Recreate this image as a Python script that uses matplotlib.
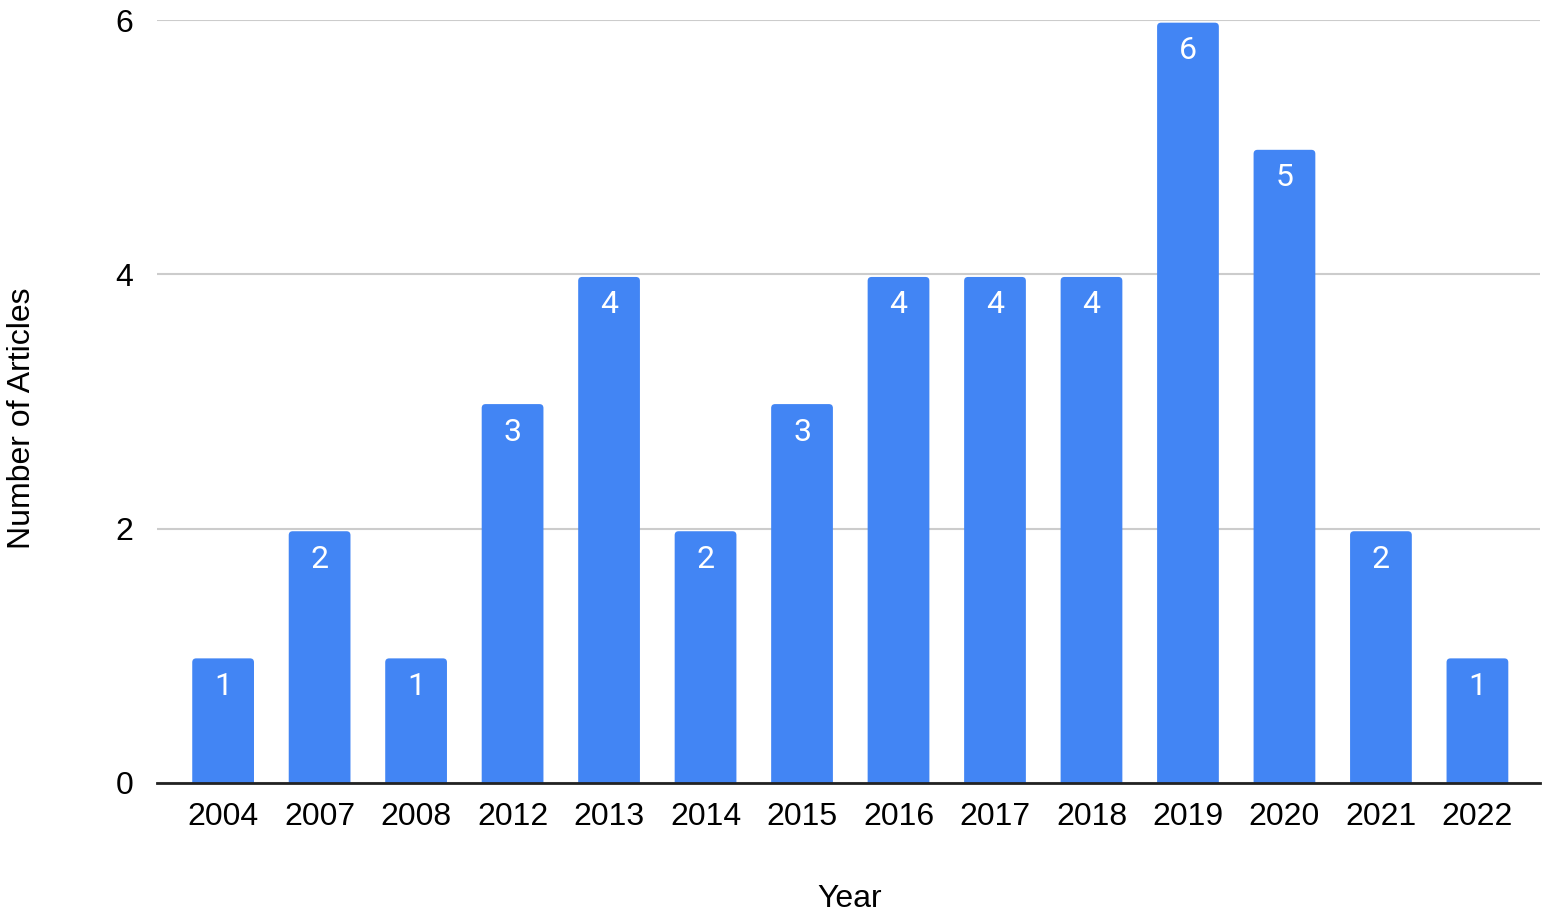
import matplotlib.pyplot as plt
from matplotlib.patches import FancyBboxPatch
import numpy as np

# Données : nombre d'articles par année
years = ['2004', '2007', '2008', '2012', '2013', '2014', '2015',
         '2016', '2017', '2018', '2019', '2020', '2021', '2022']
articles = [1, 2, 1, 3, 4, 2, 3, 4, 4, 4, 6, 5, 2, 1]

bar_color = '#4285F4'

plt.rcParams['font.family'] = ['Liberation Sans', 'DejaVu Sans']

fig = plt.figure(figsize=(15.48, 9.15), dpi=100)
ax = fig.add_axes([0.1015, 0.1443, 0.8933, 0.8337])

x = np.arange(len(years))
bars = ax.bar(x, articles, width=0.64, color=bar_color, zorder=3)

ax.set_xlim(-0.684, 13.648)
ax.set_ylim(0, 6)

# Coins arrondis en haut des barres (le bas est caché sous l'axe)
for b in bars:
    b.set_visible(False)
    patch = FancyBboxPatch((b.get_x(), -0.1), b.get_width(), b.get_height() + 0.1 - 0.02,
                           boxstyle='round,pad=0,rounding_size=0.041',
                           mutation_aspect=0.759, facecolor=bar_color,
                           edgecolor='none', zorder=3)
    ax.add_patch(patch)

# Valeurs en blanc en haut de chaque barre
for xi, v in zip(x, articles):
    ax.annotate(str(v), (xi, v), xytext=(0, -22), textcoords='offset points',
                ha='center', va='center', color='white', fontsize=23,
                family=['Roboto', 'DejaVu Sans'], zorder=4)

ax.set_xticks(x)
ax.set_xticklabels(years, fontsize=23)
ax.set_yticks([0, 2, 4, 6])
ax.set_yticklabels(['0', '2', '4', '6'], fontsize=23)
ax.tick_params(axis='both', length=0)
ax.tick_params(axis='x', pad=14)
ax.tick_params(axis='y', pad=17)

ax.grid(axis='y', color='#cccccc', linewidth=1.5, zorder=0)
for side in ['top', 'right', 'left']:
    ax.spines[side].set_visible(False)
ax.spines['bottom'].set_linewidth(2)
ax.spines['bottom'].set_color('#222222')
ax.spines['bottom'].set_zorder(5)

fig.text(0.549, 0.018, 'Year', ha='center', va='center', fontsize=23)
fig.text(0.014, 0.543, 'Number of Articles', ha='center', va='center',
         rotation=90, fontsize=23)

plt.savefig('out.png', dpi=100)
plt.close()
